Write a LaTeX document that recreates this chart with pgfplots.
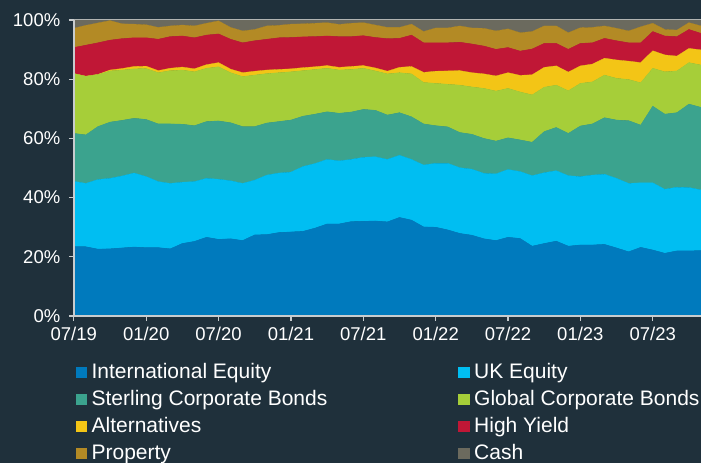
\documentclass[border=0pt]{standalone}
\usepackage{pgfplots}
\pgfplotsset{compat=1.18}
\usepackage{pgfplotstable}
\usepackage{fontspec}
\setmainfont{Liberation Sans}
\definecolor{bg}{HTML}{1F303B}
\definecolor{axiscol}{HTML}{C8CCCE}
\definecolor{cIE}{HTML}{007ABD}
\definecolor{cUK}{HTML}{00BEF2}
\definecolor{cSC}{HTML}{3BA38E}
\definecolor{cGC}{HTML}{A6CE39}
\definecolor{cALT}{HTML}{F3C516}
\definecolor{cHY}{HTML}{C01736}
\definecolor{cPR}{HTML}{B38A25}
\definecolor{cCA}{HTML}{6B6A5E}
\pgfplotstableread{
m IE UK SC GC ALT HY PR CA
0 23.4 22.1 16.2 20.2 0.0 8.8 6.5 2.8
1 23.4 21.4 16.4 19.8 0.0 10.5 6.7 1.8
2 22.6 23.5 17.9 17.6 0.0 10.7 6.7 1.0
3 22.7 23.8 19.0 17.3 0.3 10.1 6.6 0.2
4 23.0 24.3 18.8 17.0 0.5 10.1 5.0 1.3
5 23.3 25.0 18.5 16.7 0.8 9.7 4.6 1.4
6 23.1 24.0 19.3 17.2 0.8 9.6 4.4 1.6
7 23.1 22.3 19.5 17.3 0.7 10.6 4.0 2.5
8 22.7 22.1 20.1 18.0 0.8 10.7 3.6 2.0
9 24.5 20.7 19.6 18.3 1.0 10.5 3.7 1.7
10 25.2 20.2 18.9 18.2 1.0 10.5 4.0 2.0
11 26.6 19.9 19.2 18.0 1.2 10.0 4.0 1.1
12 25.9 20.3 19.7 18.3 1.4 9.7 4.4 0.3
13 26.1 19.6 19.6 16.9 1.2 10.1 4.0 2.5
14 25.5 19.3 19.2 16.9 1.3 10.1 4.0 3.7
15 27.4 18.5 18.1 17.4 1.3 10.3 3.8 3.2
16 27.5 20.1 17.6 16.7 1.2 10.4 4.5 2.0
17 28.2 20.1 17.4 16.5 1.1 10.7 4.2 1.8
18 28.4 20.2 17.6 16.3 1.0 10.6 4.5 1.4
19 28.6 21.9 17.0 15.4 1.0 10.4 4.4 1.3
20 29.7 21.8 16.7 15.1 0.9 10.2 4.5 1.1
21 31.1 21.8 16.1 14.7 0.9 10.0 4.5 0.9
22 31.1 21.3 16.1 14.6 0.9 10.4 4.1 1.5
23 31.9 21.0 16.0 14.4 1.0 10.1 4.5 1.1
24 32.0 21.6 16.2 13.9 0.9 10.1 4.4 0.9
25 32.1 21.7 15.7 13.3 1.0 10.3 4.2 1.7
26 31.8 21.1 15.0 13.9 0.9 11.0 3.8 2.5
27 33.3 21.0 14.4 13.5 1.8 9.8 3.7 2.5
28 32.4 20.5 14.4 14.5 2.5 10.6 3.7 1.4
29 30.1 20.9 13.9 14.0 3.4 10.0 3.8 3.9
30 30.0 21.6 12.7 14.3 4.1 9.6 5.0 2.7
31 29.1 22.5 12.3 14.4 4.5 9.5 5.0 2.7
32 27.9 22.2 11.9 16.0 4.9 9.6 5.5 2.0
33 27.3 22.3 11.8 16.0 4.8 9.7 5.4 2.7
34 26.1 22.1 11.8 16.9 4.9 9.4 6.0 2.8
35 25.5 22.5 11.1 16.9 5.1 9.0 6.2 3.7
36 26.6 22.9 10.7 16.7 5.3 8.5 6.3 3.0
37 26.2 22.6 10.7 16.2 5.6 8.2 6.2 4.3
38 23.6 23.8 11.3 16.0 6.8 8.7 5.9 3.9
39 24.5 23.9 13.9 15.0 6.7 8.1 5.9 2.0
40 25.3 23.8 14.6 14.3 6.5 7.6 5.9 2.0
41 23.6 23.8 14.3 14.4 6.3 7.7 5.6 4.3
42 24.0 23.1 17.1 14.4 5.9 7.6 5.3 2.6
43 24.0 23.6 17.3 14.2 6.0 7.2 5.2 2.5
44 24.2 23.7 19.1 14.4 5.7 6.7 4.2 2.0
45 23.0 23.5 19.7 14.1 6.2 6.5 4.2 2.8
46 21.7 23.1 21.2 13.9 6.2 6.2 4.0 3.7
47 23.2 21.8 19.5 14.3 6.8 6.7 5.4 2.3
48 22.3 22.7 25.9 12.8 5.9 6.5 2.8 1.1
49 21.2 21.6 25.4 14.3 5.7 6.4 2.2 3.2
50 22.0 21.5 25.2 14.1 5.0 6.6 2.2 3.4
51 22.0 21.4 28.2 14.0 4.8 6.4 2.3 0.9
52 22.1 20.5 27.9 14.3 5.1 5.6 2.5 2.0
}\data
\begin{document}
\begin{tikzpicture}[x=1pt,y=1pt]
\fill[bg] (0,0) rectangle (701,463);
\path[use as bounding box] (0,0) rectangle (701,463);
\begin{axis}[
  at={(73.8pt,147pt)}, anchor=south west,
  scale only axis, width=627.2pt, height=296pt,
  xmin=0, xmax=52, ymin=0, ymax=100,
  stack plots=y,
  axis on top,
  axis x line*=bottom, axis y line*=left,
  axis line style={axiscol, line width=1.4pt, -},
  tick style={axiscol, line width=1.2pt},
  tick align=outside, major tick length=5pt,
  xtick={0,6,...,48},
  xticklabels={07/19,01/20,07/20,01/21,07/21,01/22,07/22,01/23,07/23},
  ytick={0,20,...,100},
  yticklabels={0\%,20\%,40\%,60\%,80\%,100\%},
  ticklabel style={text=white, font=\fontsize{18.5}{20}\selectfont},
  xticklabel style={yshift=-2.5pt},
  yticklabel style={xshift=-5pt},
  legend columns=2,
  legend style={at={(0,0)}, anchor=north west, xshift=2pt, yshift=-46pt,
    draw=none, fill=none, text=white, inner sep=0pt, outer sep=0pt,
    font=\fontsize{21}{24}\selectfont, row sep=6pt,
    /tikz/every odd column/.append style={column sep=4pt},
    /tikz/every even column/.append style={column sep=130pt},
    nodes={inner sep=1pt, text height=15pt, text depth=4pt}},
  legend cell align=left,
  legend image code/.code={\fill[#1] (0pt,-5pt) rectangle (10.5pt,5.5pt);},
]
\addplot[fill=cIE, draw=cIE, line width=0.3pt] table[x=m, y=IE] {\data} \closedcycle;
\addlegendentry{International Equity}
\addplot[fill=cUK, draw=cUK, line width=0.3pt] table[x=m, y=UK] {\data} \closedcycle;
\addlegendentry{UK Equity}
\addplot[fill=cSC, draw=cSC, line width=0.3pt] table[x=m, y=SC] {\data} \closedcycle;
\addlegendentry{Sterling Corporate Bonds}
\addplot[fill=cGC, draw=cGC, line width=0.3pt] table[x=m, y=GC] {\data} \closedcycle;
\addlegendentry{Global Corporate Bonds}
\addplot[fill=cALT, draw=cALT, line width=0.3pt] table[x=m, y=ALT] {\data} \closedcycle;
\addlegendentry{Alternatives}
\addplot[fill=cHY, draw=cHY, line width=0.3pt] table[x=m, y=HY] {\data} \closedcycle;
\addlegendentry{High Yield}
\addplot[fill=cPR, draw=cPR, line width=0.3pt] table[x=m, y=PR] {\data} \closedcycle;
\addlegendentry{Property}
\addplot[fill=cCA, draw=cCA, line width=0.3pt] table[x=m, y=CA] {\data} \closedcycle;
\addlegendentry{Cash}
\draw[axiscol, line width=1pt] (rel axis cs:0,1) -- (rel axis cs:1,1);
\end{axis}
\end{tikzpicture}
\end{document}
